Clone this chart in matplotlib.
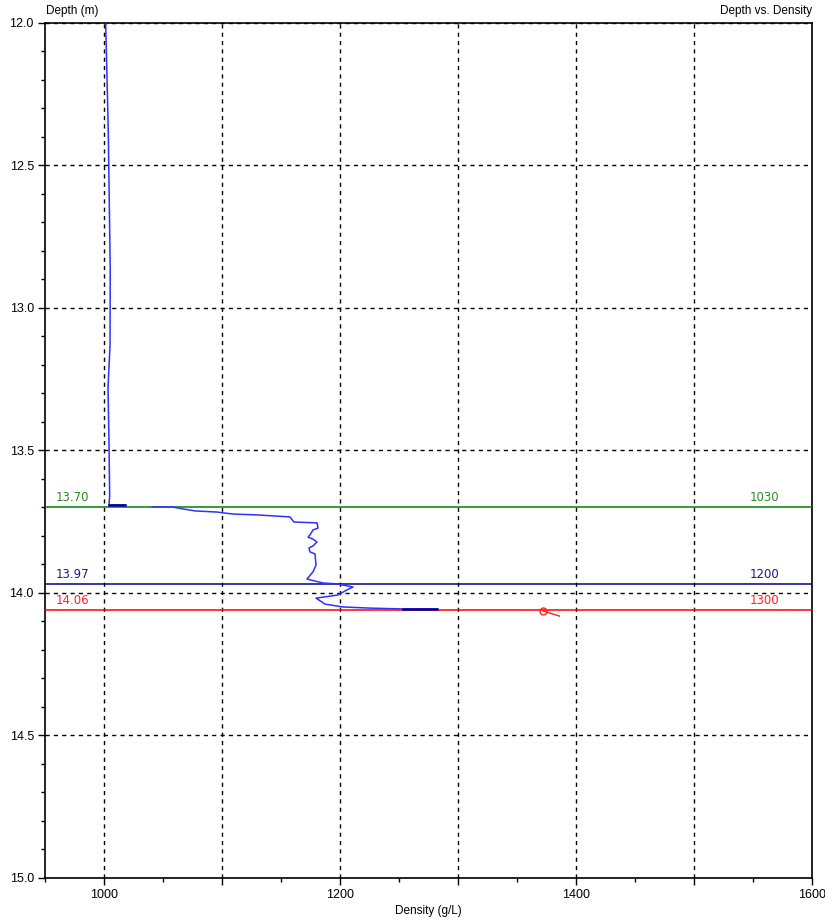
import matplotlib

matplotlib.use("Agg")

import matplotlib.pyplot as plt
from matplotlib.ticker import MultipleLocator, FormatStrFormatter

plt.rcParams["font.family"] = ["Liberation Sans", "DejaVu Sans"]
plt.rcParams["font.size"] = 8

# density profile (g/L) against depth (m)
density = [1001.4, 1002.8, 1003.6, 1005.3, 1005.1, 1003.4, 1004.2, 1004.8, 1004.2,
           1017.8, None, 1040.7, 1057.6, 1066.9, 1077.1, 1095.8, 1109.3, 1129.7,
           1157.6, 1161.0, 1180.5, 1181.4, 1177.1, 1174.6, 1172.9, 1177.1, 1180.5,
           1177.1, 1173.7, 1174.6, 1178.8, 1179.7, 1177.1, 1172.0, 1185.6, 1197.5,
           1211.0, 1205.9, 1198.3, 1179.7, 1187.3, 1202.5, 1225.4, 1253.4, 1282.2]
depth = [12.00, 12.235, 12.375, 12.87, 13.13, 13.28, 13.46, 13.66, 13.691,
         13.691, None, 13.698, 13.698, 13.705, 13.712, 13.716, 13.723, 13.726,
         13.733, 13.751, 13.754, 13.772, 13.779, 13.796, 13.804, 13.811, 13.821,
         13.835, 13.842, 13.856, 13.863, 13.902, 13.926, 13.951, 13.965, 13.968,
         13.979, 13.989, 14.007, 14.018, 14.039, 14.049, 14.053, 14.056, 14.056]

# short highlighted intervals along the profile
seg_density = [[1004.2, 1017.8], [1253.4, 1282.2]]
seg_depth = [[13.691, 13.691], [14.056, 14.056]]

# single red probe reading with its tail
probe_density = [1372.0, 1386.0]
probe_depth = [14.063, 14.081]

# horizontal interface levels: depth, density threshold, colour
level_depths = [13.70, 13.97, 14.06]
level_thresholds = [1030, 1200, 1300]
level_colors = ["#008000", "#000080", "#ff0000"]
level_text_colors = ["#2e8b22", "#1a1a8c", "#ff2020"]

fig = plt.figure(figsize=(8.25, 9.22), dpi=100)
ax = fig.add_axes([45 / 825, 44 / 922, 767 / 825, 855 / 922])

ax.set_xlim(950, 1600)
ax.set_ylim(15.0, 12.0)

ax.xaxis.set_minor_locator(MultipleLocator(50))
ax.yaxis.set_major_locator(MultipleLocator(0.5))
ax.yaxis.set_minor_locator(MultipleLocator(0.1))
ax.set_xticks([1000, 1100, 1200, 1300, 1400, 1500, 1600])
ax.set_xticklabels(["1000", "", "1200", "", "1400", "", "1600"])
ax.yaxis.set_major_formatter(FormatStrFormatter("%.1f"))

ax.grid(True, which="major", color="black", linestyle=(0, (3, 3)), linewidth=1)
ax.set_axisbelow(True)
ax.tick_params(which="major", direction="out", length=5, width=1, colors="black",
               pad=3, labelsize=9)
ax.tick_params(which="minor", direction="out", length=3, width=1)
for s in ax.spines.values():
    s.set_linewidth(1.2)

for y, thr, c, tc in zip(level_depths, level_thresholds, level_colors, level_text_colors):
    ax.axhline(y, color=c, linewidth=1.1, zorder=3)
    ax.text(959, y - 0.012, f"{y:.2f}", color=tc, fontsize=8.5, ha="left", va="bottom",
            family=["DejaVu Sans"])
    ax.text(1560, y - 0.012, f"{thr}", color=tc, fontsize=8.5, ha="center", va="bottom",
            family=["DejaVu Sans"])

ax.plot(density, depth, color="#3030ff", linewidth=1.1, zorder=4)
for sd, sy in zip(seg_density, seg_depth):
    ax.plot(sd, sy, color="#00009a", linewidth=1.8, zorder=5)

ax.plot(probe_density, probe_depth, color="#ff2020", linewidth=1.0, zorder=5)
ax.plot(probe_density[:1], probe_depth[:1], marker="o", markersize=5,
        markerfacecolor="none", markeredgecolor="#ff2020", markeredgewidth=1, zorder=5)

fig.text(46 / 825, 1 - 11 / 922, "Depth (m)", fontsize=8.5, ha="left", va="center")
fig.text(812 / 825, 1 - 11 / 922, "Depth vs. Density", fontsize=8.5, ha="right", va="center")
ax.set_xlabel("Density (g/L)", fontsize=8.5, labelpad=3)

fig.savefig("out.png", dpi=100, facecolor="white")
